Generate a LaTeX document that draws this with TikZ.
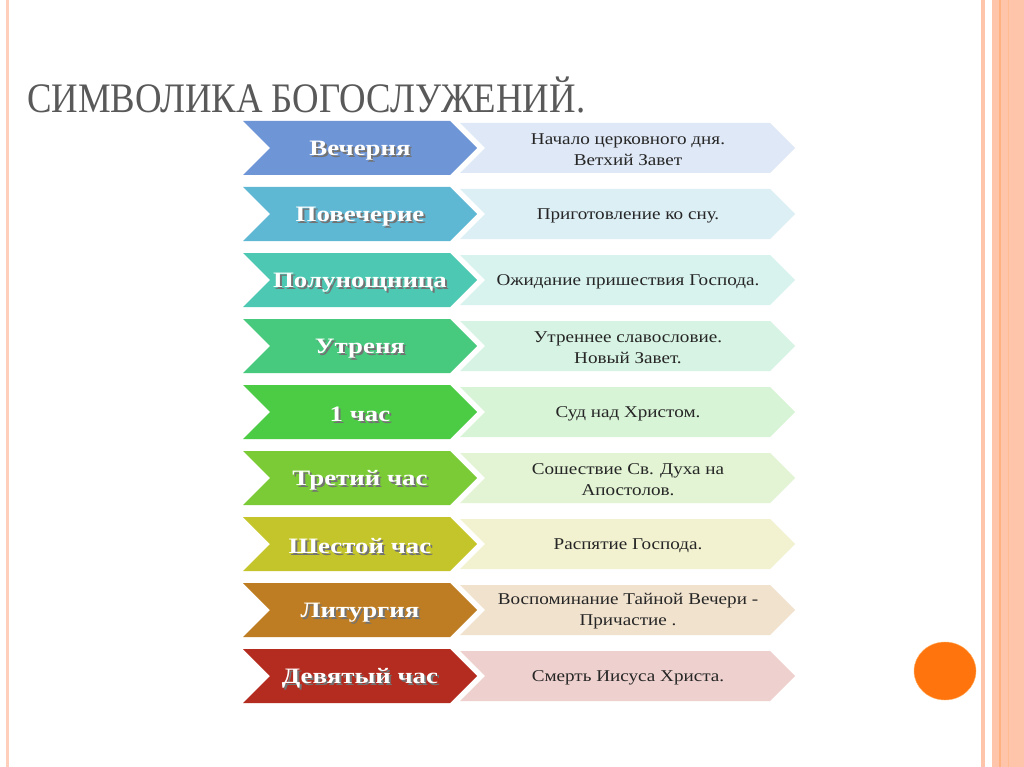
\documentclass[tikz,border=0pt]{standalone}
\usepackage{fontspec}
\setmainfont{Liberation Serif}
\begin{document}
\begin{tikzpicture}[x=1pt,y=-1pt,
  lbl/.style={font=\bfseries\fontsize{22}{25}\selectfont,text=white,xscale=1.22},
  desc/.style={font=\fontsize{16.5}{21}\selectfont,align=center,text=black!85,xscale=1.16}]
\useasboundingbox (0,0) rectangle (1024,767);
\fill[white] (0,0) rectangle (1024,767);
% borders
\fill[orange!25!pink!60] (6,0) rectangle (9,767);
\fill[orange!30!pink!70] (981,0) rectangle (985,767);
\fill[orange!30!pink!70] (992,0) rectangle (1024,767);
\fill[orange!50!pink!80] (999,0) rectangle (1001,767);
\fill[orange!50!pink!70] (1008,0) rectangle (1009,767);
% title
\node[anchor=base west,font=\fontsize{42}{46}\selectfont,text=black!65,inner sep=0,xscale=0.875] (title) at (27,113) {СИМВОЛИКА БОГОСЛУЖЕНИЙ.};
% circle
\fill[orange!85!red!95,draw=orange!60] (945,671) ellipse (31 and 29);
\foreach \i/\c/\l/\d in {
 0/6E95D6/Вечерня/{Начало церковного дня.\\Ветхий Завет},
 1/5FB8D3/Повечерие/{Приготовление ко сну.},
 2/4DC8B2/Полунощница/{Ожидание пришествия Господа.},
 3/47C97E/Утреня/{Утреннее славословие.\\Новый Завет.},
 4/4CCB45/1 час/{Суд над Христом.},
 5/7ACB36/Третий час/{Сошествие Св. Духа на\\Апостолов.},
 6/C4C52A/Шестой час/{Распятие Господа.},
 7/BE7D22/Литургия/{Воспоминание Тайной Вечери -\\Причастие .},
 8/B42C1F/Девятый час/{Смерть Иисуса Христа.}}{
 \definecolor{cc}{HTML}{\c}
 \pgfmathsetmacro{\y}{148+66*\i}
 \fill[cc!22!white] (460,\y-25) -- (770,\y-25) -- (795,\y) -- (770,\y+25) -- (460,\y+25) -- (485,\y) -- cycle;
 \fill[cc] (243,\y-27) -- (450,\y-27) -- (477,\y) -- (450,\y+27) -- (243,\y+27) -- (270,\y) -- cycle;
 \node[lbl,text=black!55] at (362,\y+4.5) {\l};
 \node[lbl] (l\i) at (360,\y+2.5) {\l};
 \node[desc] (d\i) at (628,\y+1.5) {\d};
}
\end{tikzpicture}
\end{document}
